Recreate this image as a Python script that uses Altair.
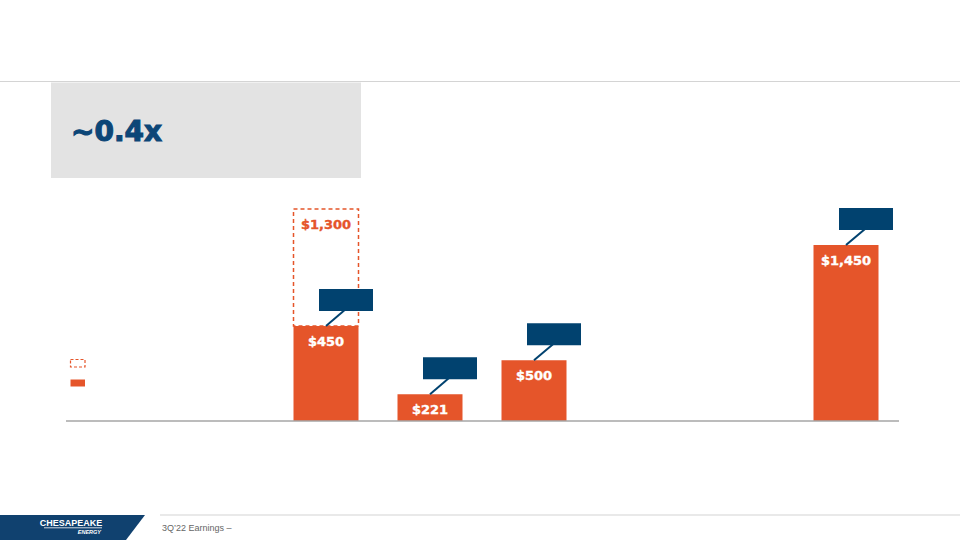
import altair as alt
import pandas as pd

# ---- data ----
slots = ["s1", "s2", "s3", "s4", "s5", "s6", "s7", "s8"]
bar_cats = ["s3", "s4", "s5", "s8"]
bar_heights = [783, 221, 500, 1450]          # drawn heights (chart units)
bar_labels = ["$450", "$221", "$500", "$1,450"]

outline_cats = ["s3"]
outline_tops = [1747]
outline_bottoms = [783]
outline_labels = ["$1,300"]

title_text = "~0.4x"
footer_text = "3Q\u201922 Earnings \u2013"
logo_text = "CHESAPEAKE"
logo_sub = "ENERGY"

ORANGE = "#E5552A"
NAVY = "#01426F"
FONT = "DejaVu Sans"
SANS = "Liberation Sans"

bars = pd.DataFrame({"cat": bar_cats, "h": bar_heights, "label": bar_labels})
outline = pd.DataFrame({"cat": outline_cats, "top": outline_tops,
                        "bottom": outline_bottoms, "label": outline_labels})
dummy = pd.DataFrame({"d": [0]})

xscale = alt.Scale(domain=slots, range=[66, 898], paddingInner=0.375, paddingOuter=0.1875)
yscale = alt.Scale(domain=[0, 1747], range=[421, 209], nice=False)

X = alt.X("cat:N", scale=xscale, axis=None)

# ---- slide decorations ----
top_line = alt.Chart(dummy).mark_rule(color="#d4d4d4", strokeWidth=1.2).encode(
    x=alt.value(0), x2=alt.value(960), y=alt.value(81.5))
gray_box = alt.Chart(dummy).mark_rect(color="#e3e3e3").encode(
    x=alt.value(51), x2=alt.value(361), y=alt.value(82.5), y2=alt.value(178))
title = alt.Chart(dummy).mark_text(
    text=title_text, font=FONT, fontWeight="bold", fontSize=28, color="#0c4677",
    stroke="#0c4677", strokeWidth=1.1,
    align="left", baseline="alphabetic").encode(x=alt.value(71), y=alt.value(140.5))

legend_dashed = alt.Chart(dummy).mark_rect(
    fillOpacity=0, stroke=ORANGE, strokeDash=[3, 2], strokeWidth=1.2).encode(
    x=alt.value(70.5), x2=alt.value(85), y=alt.value(359.5), y2=alt.value(367))
legend_solid = alt.Chart(dummy).mark_rect(color=ORANGE).encode(
    x=alt.value(70.5), x2=alt.value(85), y=alt.value(379.5), y2=alt.value(386.5))

footer_line = alt.Chart(dummy).mark_rule(color="#d4d4d4", strokeWidth=1.2).encode(
    x=alt.value(160), x2=alt.value(960), y=alt.value(515))
logo_shape = alt.Chart(dummy).mark_point(
    shape="M-0.9667,-0.1667L0.9667,-0.1667L0.7133,0.1667L-0.9667,0.1667Z",
    size=22500, filled=True, color="#10416F", opacity=1, strokeWidth=0).encode(
    x=alt.value(72.5), y=alt.value(527.5))
logo_name = alt.Chart(dummy).mark_text(
    text=logo_text, font=SANS, fontWeight="bold", fontSize=9, color="white",
    align="center", baseline="alphabetic").encode(x=alt.value(71), y=alt.value(525.7))
logo_rule = alt.Chart(dummy).mark_rule(color="white", strokeWidth=0.8).encode(
    x=alt.value(44), x2=alt.value(102), y=alt.value(527.8))
logo_sub_t = alt.Chart(dummy).mark_text(
    text=logo_sub, font=SANS, fontWeight="bold", fontStyle="italic", fontSize=5.5,
    color="white", align="right", baseline="alphabetic").encode(
    x=alt.value(101), y=alt.value(534))
footer = alt.Chart(dummy).mark_text(
    text=footer_text, font=SANS, fontSize=9, color="#666666",
    align="left", baseline="alphabetic").encode(x=alt.value(162), y=alt.value(531))

# ---- data marks ----
dashed = alt.Chart(outline).mark_bar(
    fillOpacity=0, stroke=ORANGE, strokeDash=[4, 3], strokeWidth=1.5).encode(
    x=X, y=alt.Y("top:Q", scale=yscale, axis=None), y2="bottom:Q")
dashed_label = alt.Chart(outline).mark_text(
    font=FONT, fontWeight="bold", fontSize=13, color=ORANGE, dy=20,
    stroke=ORANGE, strokeWidth=0.4, baseline="alphabetic").encode(
    x=X, y=alt.Y("top:Q", scale=yscale, axis=None), text="label:N")

bar_layer = alt.Chart(bars).mark_bar(color=ORANGE).encode(
    x=X, y=alt.Y("h:Q", scale=yscale, axis=None))
bar_text = alt.Chart(bars).mark_text(
    font=FONT, fontWeight="bold", fontSize=13, color="white", dy=20,
    stroke="white", strokeWidth=0.4, baseline="alphabetic").encode(
    x=X, y=alt.Y("h:Q", scale=yscale, axis=None), text="label:N")

callout_box = alt.Chart(bars).mark_bar(
    color=NAVY, width=54, xOffset=20, yOffset=-15, y2Offset=-37).encode(
    x=X, y=alt.Y("h:Q", scale=yscale, axis=None), y2="h:Q")
callout_line = alt.Chart(bars).mark_point(
    shape="M0,0L1,-0.85", size=1444, filled=False, stroke=NAVY, strokeWidth=2,
    opacity=1).encode(x=X, y=alt.Y("h:Q", scale=yscale, axis=None))

baseline = alt.Chart(dummy).mark_rule(color="#a6a6a6", strokeWidth=1.6).encode(
    x=alt.value(66), x2=alt.value(899), y=alt.datum(0, scale=yscale))

chart = alt.layer(
    top_line, gray_box, title, legend_dashed, legend_solid,
    footer_line, logo_shape, logo_name, logo_rule, logo_sub_t, footer,
    dashed, dashed_label, bar_layer, bar_text, callout_line, callout_box, baseline,
).properties(
    width=960, height=540, padding=0, autosize=alt.AutoSizeParams(type="none"),
    background="white",
).configure_view(stroke=None)

chart.save("out.html", embed_options={"renderer": "svg", "actions": False})
